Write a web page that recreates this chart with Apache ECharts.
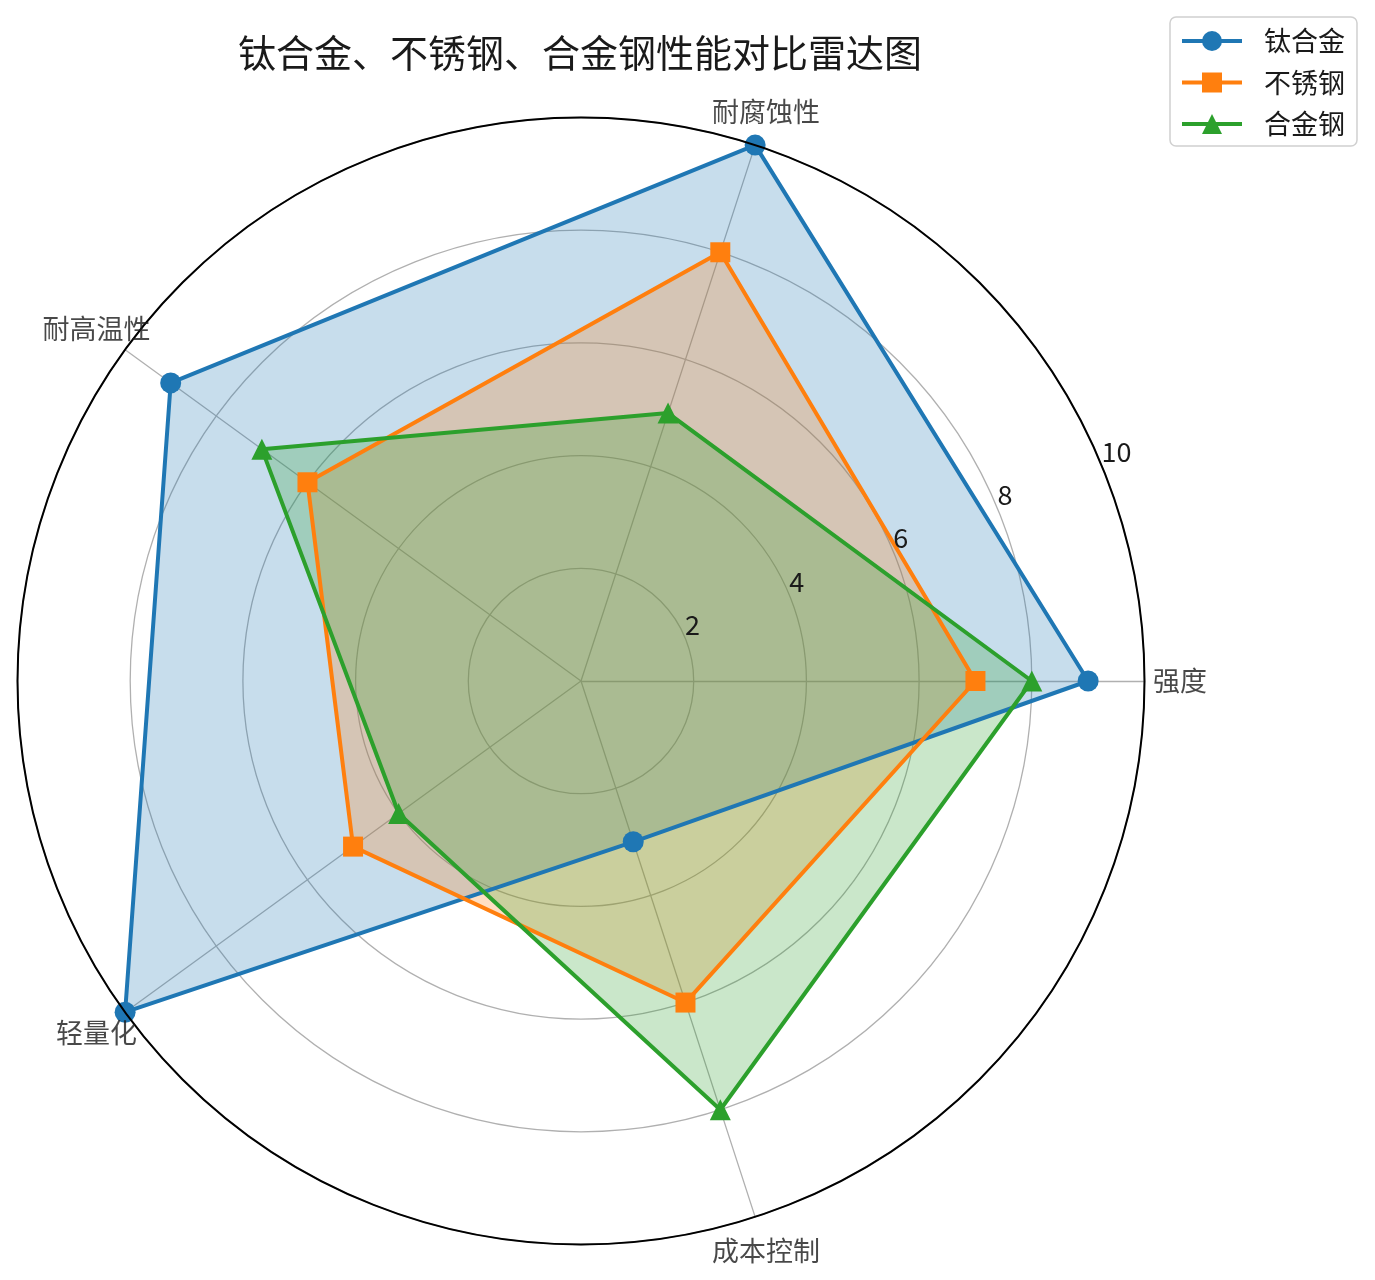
<!DOCTYPE html>
<html><head><meta charset="utf-8">
<script src="https://cdn.jsdelivr.net/npm/echarts@6/dist/echarts.min.js"></script>
<style>html,body{margin:0;padding:0;background:#fff}#c{width:1375px;height:1280px}</style>
</head><body><div id="c"></div>
<script>
const categories = ['强度', '耐腐蚀性', '耐高温性', '轻量化', '成本控制'];
const seriesNames = ['钛合金', '不锈钢', '合金钢'];
const titanium = [9, 10, 9, 10, 3];
const stainless = [7, 8, 6, 5, 6];
const alloySteel = [8, 5, 7, 4, 8];
const radialTicks = [2, 4, 6, 8, 10];
const titleText = '钛合金、不锈钢、合金钢性能对比雷达图';

const FONT = '"Noto Sans CJK SC", "Noto Sans", sans-serif';
const colors = ['#1f77b4', '#ff7f0e', '#2ca02c'];
const symbols = ['circle', 'rect', 'triangle'];
const symbolSizes = [21, 20, 21];
const values = [titanium, stainless, alloySteel];
const CENTER = [581, 681];
const RADIUS = 563.5;
const RMAX = 10;
const NAME_RADIUS = 10.63;
const TEXT_COLOR = '#1a1a1a';

const chart = echarts.init(document.getElementById('c'));

const dummyLines = seriesNames.map((n, i) => ({
  type: 'line', name: n, data: [], xAxisIndex: 0, yAxisIndex: 0,
  symbol: symbols[i], symbolSize: symbolSizes[i],
  lineStyle: { color: colors[i], width: 4 },
  itemStyle: { color: colors[i] }
}));

// fills first (below all lines), like matplotlib patches
const radarFills = seriesNames.map((n, i) => ({
  type: 'radar', name: n, radarIndex: 0, z: 2,
  symbol: 'none', silent: true,
  lineStyle: { width: 0, opacity: 0 },
  itemStyle: { color: colors[i] },
  areaStyle: { color: colors[i], opacity: 0.25 },
  data: [{ name: n, value: values[i] }]
}));

const radarLines = seriesNames.map((n, i) => ({
  type: 'radar', name: n, radarIndex: 0, z: 3 + i,
  symbol: symbols[i], symbolSize: symbolSizes[i],
  lineStyle: { color: colors[i], width: 4 },
  itemStyle: { color: colors[i] },
  data: [{ name: n, value: values[i] }]
}));

const nameSeries = {
  type: 'scatter', coordinateSystem: 'polar', polarIndex: 0,
  symbolSize: 0, clip: false, silent: true, z: 10,
  data: categories.map((c, i) => ({ name: c, value: [NAME_RADIUS, i * 360 / categories.length] })),
  label: { show: true, position: 'inside', formatter: '{b}', fontSize: 27, color: TEXT_COLOR, fontFamily: FONT }
};

chart.setOption({
  backgroundColor: '#fff',
  animation: false,
  title: {
    text: titleText, left: 238, top: 34, padding: 0,
    textStyle: { fontSize: 38, fontWeight: 'normal', color: TEXT_COLOR, fontFamily: FONT }
  },
  legend: {
    data: seriesNames, orient: 'vertical', left: 1170, top: 17,
    padding: [10, 12, 8, 10], itemWidth: 60, itemHeight: 25, itemGap: 13.5,
    backgroundColor: '#fff', borderColor: '#d0d0d0', borderWidth: 1.5, borderRadius: 6,
    lineStyle: { width: 4 },
    textStyle: { fontSize: 27, lineHeight: 28, color: TEXT_COLOR, fontFamily: FONT, padding: [0, 0, 0, 17] }
  },
  grid: { show: false, left: 0, top: 0, width: 10, height: 10 },
  xAxis: { type: 'value', show: false },
  yAxis: { type: 'value', show: false },
  radar: {
    center: CENTER, radius: RADIUS, startAngle: 0, shape: 'circle', splitNumber: radialTicks.length,
    indicator: categories.map(n => ({ name: n, min: 0, max: RMAX })),
    axisName: { show: false },
    axisLine: { lineStyle: { color: '#b0b0b0', width: 1.3 } },
    splitLine: { lineStyle: { color: '#b0b0b0', width: 1.3 } },
    splitArea: { show: false },
    axisTick: { show: false },
    axisLabel: { show: false }
  },
  polar: [
    { center: CENTER, radius: RADIUS },
    { center: CENTER, radius: RADIUS }
  ],
  angleAxis: [
    { polarIndex: 0, type: 'value', min: 0, max: 360, startAngle: 0, clockwise: false, z: 5,
      axisLine: { show: true, lineStyle: { color: '#000', width: 2 } },
      axisTick: { show: false }, axisLabel: { show: false }, splitLine: { show: false } },
    { polarIndex: 1, type: 'value', min: 0, max: 360, startAngle: 22.5, clockwise: false, show: false }
  ],
  radiusAxis: [
    { polarIndex: 0, type: 'value', min: 0, max: RMAX, show: false },
    { polarIndex: 1, type: 'value', min: 0, max: RMAX, interval: 2, z: 10,
      axisLine: { show: false }, axisTick: { show: false }, splitLine: { show: false },
      axisLabel: {
        show: true, margin: 0, align: 'left', verticalAlign: 'bottom',
        fontSize: 27, color: TEXT_COLOR, fontFamily: FONT,
        formatter: v => (radialTicks.indexOf(v) >= 0 ? String(v) : '')
      } }
  ],
  series: [...dummyLines, ...radarFills, ...radarLines, nameSeries]
});
</script></body></html>
